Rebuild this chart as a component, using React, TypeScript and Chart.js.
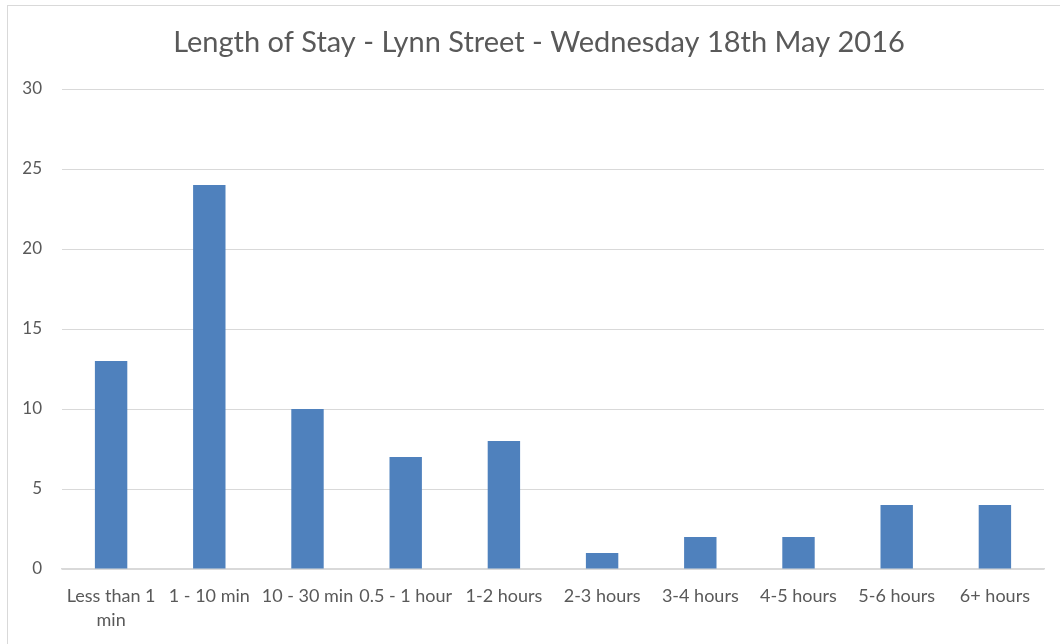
import React, { useEffect, useRef } from "react";
import { Chart, registerables } from "chart.js";

Chart.register(...registerables);

const categories: (string | string[])[] = [
  ["Less than 1", "min"],
  "1 - 10 min",
  "10 - 30 min",
  "0.5 - 1 hour",
  "1-2 hours",
  "2-3 hours",
  "3-4 hours",
  "4-5 hours",
  "5-6 hours",
  "6+ hours",
];
const counts: number[] = [13, 24, 10, 7, 8, 1, 2, 2, 4, 4];
const titleText = "Length of Stay - Lynn Street - Wednesday 18th May 2016";
const yMin = 0;
const yMax = 30;
const yStep = 5;

const FONT = "Lato, 'Open Sans', 'DejaVu Sans', sans-serif";

export default function App() {
  const ref = useRef<HTMLCanvasElement | null>(null);

  useEffect(() => {
    document.body.style.margin = "0";
    if (!ref.current) return;
    const chart = new Chart(ref.current, {
      type: "bar",
      data: {
        labels: categories,
        datasets: [
          {
            data: counts,
            backgroundColor: "#4F81BD",
            borderWidth: 0,
            categoryPercentage: 1,
            barPercentage: 0.33,
          },
        ],
      },
      options: {
        animation: false,
        responsive: false,
        maintainAspectRatio: false,
        layout: { padding: { left: 0, right: 0, top: 0, bottom: 0 } },
        plugins: {
          legend: { display: false },
          tooltip: { enabled: false },
          title: {
            display: true,
            text: titleText,
            color: "#595959",
            font: { family: FONT, size: 29, weight: "normal", lineHeight: 1.2 },
            padding: { top: 19, bottom: 29.2 },
          },
        },
        scales: {
          x: {
            grid: { display: false, drawTicks: false },
            border: { display: true, color: "#D9D9D9", width: 1.5 },
            ticks: {
              color: "#595959",
              font: { family: FONT, size: 18, lineHeight: 1.33 },
              padding: 15,
              maxRotation: 0,
              minRotation: 0,
              autoSkip: false,
            },
            afterFit: (s: any) => {
              s.height = 95;
            },
          },
          y: {
            min: yMin,
            max: yMax,
            grid: { color: "#D9D9D9", lineWidth: 1, drawTicks: false },
            border: { display: false },
            ticks: {
              stepSize: yStep,
              color: "#595959",
              font: { family: FONT, size: 17 },
              padding: 20,
            },
            afterFit: (s: any) => {
              s.width = 54;
            },
          },
          spacer: {
            type: "linear",
            position: "right",
            display: true,
            grid: { display: false, drawTicks: false },
            border: { display: false },
            ticks: { display: false },
            afterFit: (s: any) => {
              s.width = 26;
            },
          },
        },
      },
    });
    return () => chart.destroy();
  }, []);

  return (
    <div
      style={{
        position: "fixed",
        left: 0,
        top: 0,
        width: 1060,
        height: 644,
        overflow: "hidden",
        background: "#fff",
      }}
    >
      <div
        style={{
          position: "absolute",
          left: 7,
          top: 5,
          width: 1064,
          height: 660,
          border: "1px solid #D9D9D9",
          boxSizing: "border-box",
          background: "#fff",
        }}
      >
        <canvas ref={ref} width={1062} height={658} style={{ display: "block" }} />
      </div>
    </div>
  );
}
